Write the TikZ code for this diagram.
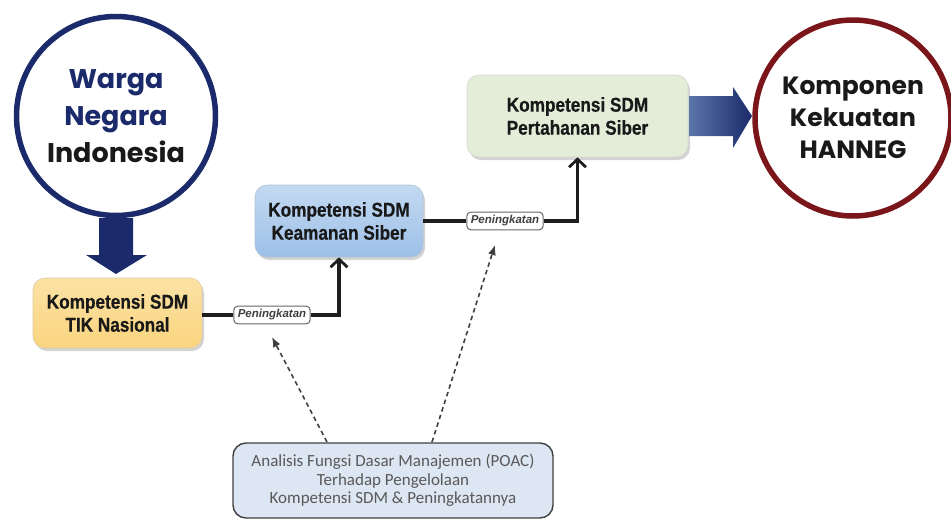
\documentclass[tikz,border=0pt]{standalone}
\usepackage{fontspec}
\setmainfont{Liberation Sans}
\newfontfamily\boxfont[FakeStretch=0.86,FakeBold=0.6]{Liberation Sans Bold}
\newfontfamily\circfont{Poppins}
\newfontfamily\calfont{Carlito}
\usetikzlibrary{arrows.meta,shadows,calc}
\definecolor{navy}{HTML}{1B2A6B}
\definecolor{darkred}{HTML}{7A1519}
\definecolor{yelfill}{HTML}{FAD57E}
\definecolor{bluefill}{HTML}{9CC0E8}
\definecolor{greenfill}{HTML}{E3EDD8}
\definecolor{grayfill}{HTML}{DDE6F3}
\definecolor{lineblk}{HTML}{1E1E1E}
\tikzset{
  x=1pt,y=-1pt,
  compbox/.style={draw=#1!80!black!60, line width=0.6pt, rounded corners=12pt, minimum width=0pt,
    font=\boxfont\fontsize{20}{23}\selectfont, text=black!90, align=center,
    drop shadow={shadow xshift=2pt,shadow yshift=-3pt,opacity=0.35}},
  lbl/.style={draw=black!60, fill=white, rounded corners=4pt, line width=1pt,
    font=\bfseries\itshape\fontsize{11.5}{12}\selectfont, inner xsep=4pt, inner ysep=3.5pt, text=black!75},
  conn/.style={draw=lineblk, line width=3.2pt},
  connarrow/.style={conn, -{Straight Barb[length=8pt,width=17pt,line width=2.8pt]}},
  dasharrow/.style={draw=black!75, line width=1.6pt, dash pattern=on 4.5pt off 3.5pt, -{Latex[length=10pt,width=8pt]}},
}
\begin{document}
\begin{tikzpicture}
\useasboundingbox (0,0) rectangle (951,520);
% blue circle
\node[circle, draw=navy, line width=5.5pt, minimum size=199pt, align=center,
  font=\circfont\bfseries\fontsize{27}{37}\selectfont] (wni) at (116,116)
  {\textcolor{navy}{Warga}\\\textcolor{navy}{Negara}\\\textcolor{black!90}{Indonesia}};
% down arrow
\fill[navy] (99,218) -- (133,218) -- (133,255) -- (147,255) -- (116,274) -- (86,255) -- (99,255) -- cycle;
% red circle
\node[circle, draw=darkred, line width=5.5pt, minimum size=196pt, align=center,
  font=\circfont\bfseries\fontsize{25}{32}\selectfont, text=black!90] (kk) at (853,118)
  {Komponen\\Kekuatan\\HANNEG};
% boxes
\node[compbox=yelfill, top color=yelfill!70!white, bottom color=yelfill, minimum width=169pt, minimum height=70pt] (tik) at (117.5,313) {Kompetensi SDM\\TIK Nasional};
\node[compbox=bluefill, top color=bluefill!60!white, bottom color=bluefill, minimum width=168pt, minimum height=72pt] (kam) at (339,221) {Kompetensi SDM\\Keamanan Siber};
\node[compbox=greenfill, fill=greenfill, minimum width=221pt, minimum height=82pt] (per) at (577.5,116) {Kompetensi SDM\\Pertahanan Siber};
% right arrow
\shade[left color=bluefill!50!navy, right color=navy] (689,96) -- (733,96) -- (733,87) -- (752,116) -- (733,148) -- (733,136) -- (689,136) -- cycle;
% labels
\node[lbl] (p1) at (272,315) {Peningkatan};
\node[lbl] (p2) at (505,221) {Peningkatan};
% connectors
\draw[conn] (tik.east |- p1) -- (p1.west);
\draw[connarrow] (p1.east) -| (kam.south);
\draw[conn] (kam.east |- p2) -- (p2.west);
\draw[connarrow] (p2.east) -| (per.south);
% bottom box
\node[draw=black!75, line width=1.4pt, fill=grayfill, rounded corners=13pt, minimum width=320pt, minimum height=75pt,
  align=center, text=black!65] (ana) at (393,480.5)
  {\raisebox{-2.5pt}{\parbox{310pt}{\centering\calfont\fontsize{17}{18.5}\selectfont Analisis Fungsi Dasar Manajemen (POAC)\\Terhadap Pengelolaan\\Kompetensi SDM \& Peningkatannya}}};
\coordinate (a1) at (327,442);
\coordinate (a2) at (432,442);
\coordinate (t1) at (272,337);
\coordinate (t2) at (495,245);
\draw[dasharrow] (a1) -- (t1);
\draw[dasharrow] (a2) -- (t2);
\end{tikzpicture}
\end{document}
